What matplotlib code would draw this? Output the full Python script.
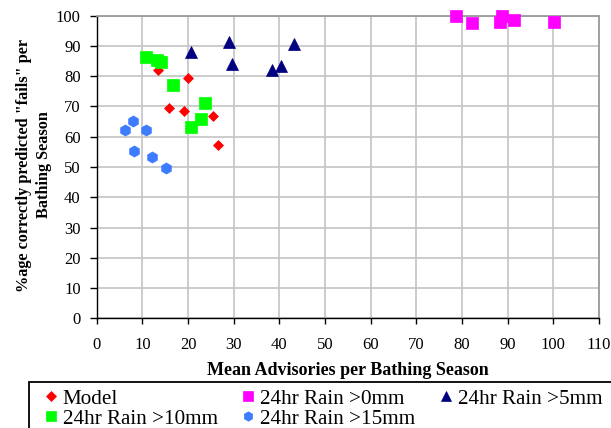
import matplotlib
matplotlib.use("Agg")
import matplotlib.pyplot as plt
from matplotlib.patches import Rectangle

# ---- data ----
model_x = [13.5, 19.9, 15.9, 19.1, 25.4, 26.5]
model_y = [82.1, 79.3, 69.6, 68.6, 67.0, 57.3]

rain0_x = [78.7, 82.2, 88.8, 88.3, 91.4, 100.1]
rain0_y = [100.0, 97.5, 100.0, 98.0, 98.6, 98.0]

rain5_x = [20.7, 28.9, 29.6, 38.4, 40.4, 43.1]
rain5_y = [88.1, 91.2, 83.9, 82.1, 83.4, 90.5]

rain10_x = [10.7, 13.2, 14.0, 16.8, 23.8, 22.9, 20.7]
rain10_y = [86.2, 85.3, 84.6, 77.1, 71.0, 65.8, 63.3]

rain15_x = [6.2, 8.0, 10.7, 8.2, 12.1, 15.2]
rain15_y = [62.2, 65.2, 62.2, 55.3, 53.3, 49.8]

x_ticks = list(range(0, 111, 10))
y_ticks = list(range(0, 101, 10))

plt.rcParams['font.family'] = ['Liberation Serif', 'DejaVu Serif']

fig = plt.figure(figsize=(6.11, 4.28), dpi=100)
W, H = 611, 428
left, right, top, bottom = 96.7, 599, 15.7, 318.3
ax = fig.add_axes([left / W, 1 - bottom / H, (right - left) / W, (bottom - top) / H])

ax.set_xlim(0, 110)
ax.set_ylim(0, 100)
ax.set_xticks(x_ticks)
ax.set_yticks(y_ticks)
ax.grid(True, color='#c4c4c4', linewidth=1.2)
ax.set_axisbelow(True)

for s in ['top', 'right']:
    ax.spines[s].set_color('#9a9a9a')
    ax.spines[s].set_linewidth(1.3)
for s in ['left', 'bottom']:
    ax.spines[s].set_color('black')
    ax.spines[s].set_linewidth(1.0)

ax.tick_params(axis='x', direction='out', length=4, width=1, pad=9.2, labelsize=12)
ax.tick_params(axis='y', direction='out', length=5, width=1, pad=6.5, labelsize=12)

h_model, = ax.plot(model_x, model_y, 'D', color='#ff0000', ms=5.4, mec='#ff0000', mew=0.5,
                   linestyle='none', label='Model', clip_on=False, zorder=3)
h0, = ax.plot(rain0_x, rain0_y, 's', color='#ff00ff', ms=8.3, mec='#ff00ff', mew=0.5,
              linestyle='none', label='24hr Rain >0mm', clip_on=False, zorder=3)
h5, = ax.plot(rain5_x, rain5_y, '^', color='#000080', ms=8, mec='#000080', mew=0.5,
              linestyle='none', label='24hr Rain >5mm', clip_on=False, zorder=3)
h10, = ax.plot(rain10_x, rain10_y, 's', color='#00ff00', ms=8.2, mec='#00ff00', mew=0.5,
               linestyle='none', label='24hr Rain >10mm', clip_on=False, zorder=3)
h15, = ax.plot(rain15_x, rain15_y, 'h', color='#3d7bff', ms=8, mec='#3d7bff', mew=0.5,
               linestyle='none', label='24hr Rain >15mm', clip_on=False, zorder=3)

ax.set_xlabel('Mean Advisories per Bathing Season', fontsize=13, fontweight='bold', labelpad=6.5)

fig.text(34 / W, 1 - 165 / H, '%age correctly predicted "fails" per\nBathing Season',
         rotation=90, ha='center', va='center', multialignment='center',
         fontsize=11.7, fontweight='bold', linespacing=1.25)

handles = [h_model, h10, h0, h15, h5]
leg = fig.legend(handles=handles, labels=[h.get_label() for h in handles],
                 loc='upper left', bbox_to_anchor=(29 / W, 1 - 382 / H),
                 bbox_transform=fig.transFigure, ncol=3, fontsize=15.2,
                 frameon=False, borderaxespad=0,
                 borderpad=0.33, labelspacing=0.0, handlelength=1.4, handletextpad=-0.13,
                 columnspacing=0.73, markerscale=0.85)

# legend box (extends past the figure edge as in the reference)
fig.patches.append(Rectangle((29 / W, -0.2), 1.0, 1 - 382 / H + 0.2,
                             transform=fig.transFigure, fill=False,
                             edgecolor='black', linewidth=1.3, zorder=0))

fig.savefig('out.png', dpi=100)
